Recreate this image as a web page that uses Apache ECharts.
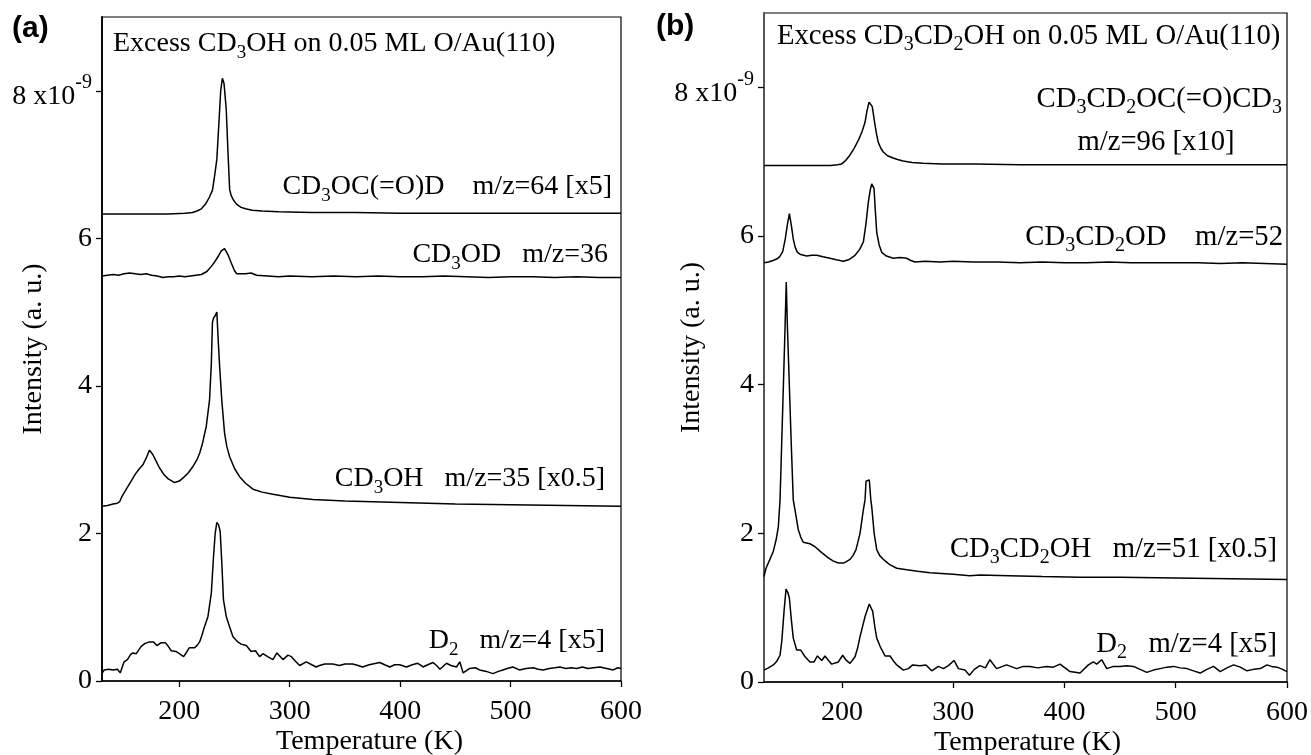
<!DOCTYPE html>
<html><head><meta charset="utf-8">
<script src="https://cdn.jsdelivr.net/npm/echarts@6/dist/echarts.min.js"></script>
<style>html,body{margin:0;padding:0;background:#fff}#c{width:1311px;height:755px}</style>
</head><body><div id="c"></div>
<script>
// ---------- DATA (Temperature K, Intensity x1e-9) ----------
const xTicks = [200, 300, 400, 500, 600];
const yTicks = [0, 2, 4, 6, 8];

// Panel (a): Excess CD3OH on 0.05 ML O/Au(110)
const aEster = [[130,6.33],[150,6.33],[170,6.33],[190,6.33],[205,6.34],[212,6.35],[216,6.37],[220,6.40],[224,6.47],[227,6.55],[230,6.65],[232,6.85],[234,7.07],[236,7.6],[237.5,8.0],[239,8.17],[240.5,8.1],[242.5,7.75],[244,7.2],[245.6,6.66],[247,6.58],[249,6.52],[252,6.46],[256,6.42],[260,6.40],[266,6.38],[275,6.37],[290,6.36],[320,6.35],[360,6.35],[400,6.34],[450,6.34],[500,6.34],[550,6.34],[600,6.34]];
const aMethD = [[130,5.49],[135,5.50],[140,5.51],[145,5.50],[150,5.52],[155,5.53],[160,5.52],[165,5.51],[170,5.52],[175,5.50],[180,5.49],[185,5.47],[190,5.48],[195,5.48],[200,5.49],[205,5.48],[210,5.49],[215,5.50],[220,5.51],[225,5.55],[229,5.62],[232,5.68],[235,5.75],[238,5.83],[241,5.86],[244,5.78],[247,5.67],[250,5.56],[252,5.52],[256,5.52],[260,5.52],[265,5.53],[270,5.50],[280,5.49],[290,5.48],[300,5.49],[320,5.48],[340,5.49],[360,5.48],[380,5.49],[400,5.48],[420,5.48],[440,5.49],[460,5.48],[480,5.47],[500,5.48],[520,5.48],[540,5.47],[560,5.48],[580,5.47],[600,5.47]];
const aMeth = [[130,2.37],[135,2.38],[140,2.40],[144,2.41],[146,2.43],[148,2.50],[152,2.60],[156,2.70],[160,2.80],[164,2.88],[167,2.93],[170,3.02],[173,3.13],[176,3.07],[179,2.98],[182,2.89],[186,2.80],[190,2.74],[195.7,2.69],[200,2.71],[204,2.76],[208,2.82],[212,2.90],[216,3.00],[218.5,3.09],[221,3.22],[224.4,3.45],[227.4,3.81],[229,4.3],[230,4.86],[231,4.92],[232.5,4.95],[234,5.0],[235.3,4.6],[236.5,4.27],[238.5,3.8],[241,3.36],[243,3.18],[245.6,3.04],[250,2.88],[254.6,2.77],[260,2.68],[266.7,2.60],[275,2.56],[284.8,2.53],[300,2.49],[321,2.46],[350,2.44],[400,2.42],[450,2.40],[500,2.39],[550,2.38],[600,2.37]];
const aD2 = [[130,0.10],[132,0.15],[136,0.16],[140,0.15],[144,0.16],[146.5,0.11],[150,0.26],[153,0.29],[156,0.36],[158,0.38],[161,0.37],[165.5,0.47],[169,0.51],[173,0.53],[176.7,0.53],[179.7,0.48],[183.6,0.52],[187.3,0.52],[190,0.47],[192.7,0.41],[197,0.40],[200,0.37],[203.9,0.33],[207,0.40],[209,0.45],[213.8,0.45],[216,0.48],[218.4,0.53],[220.5,0.62],[222.9,0.74],[225.9,0.87],[229,1.19],[231,1.69],[232.5,2.0],[234,2.15],[235.5,2.12],[237,2.03],[238.5,1.6],[240,1.10],[242.6,0.87],[245,0.76],[248.6,0.60],[253,0.53],[256,0.50],[260.7,0.48],[265,0.40],[269,0.41],[272.7,0.33],[275.7,0.37],[280,0.33],[284.8,0.29],[288.4,0.38],[293.9,0.29],[298.4,0.35],[301.5,0.33],[305,0.27],[309,0.21],[315,0.26],[320,0.22],[324,0.19],[327,0.21],[331.7,0.23],[339,0.23],[345,0.21],[350,0.23],[357,0.23],[362,0.21],[366,0.19],[372,0.22],[381.5,0.25],[386,0.22],[390.6,0.19],[395,0.22],[399.6,0.22],[405.7,0.19],[411,0.22],[416,0.24],[420.8,0.19],[425,0.22],[429.8,0.25],[433,0.21],[436,0.16],[442,0.24],[446,0.21],[451,0.19],[454,0.26],[457,0.11],[463,0.17],[468,0.18],[472,0.15],[478,0.13],[484,0.10],[489,0.13],[493,0.15],[497,0.17],[502,0.19],[508,0.15],[514,0.17],[520.5,0.18],[525,0.16],[529.5,0.15],[535,0.17],[540,0.18],[544.7,0.19],[550,0.17],[555,0.18],[559.8,0.17],[565,0.19],[570,0.17],[575,0.18],[581,0.19],[587,0.17],[593,0.15],[597,0.18],[600,0.17]];

// Panel (b): Excess CD3CD2OH on 0.05 ML O/Au(110)
const bEster = [[130,6.95],[150,6.95],[170,6.95],[183,6.95],[190,6.95],[196,6.96],[199.8,6.97],[203,7.01],[207.3,7.09],[211,7.18],[214.8,7.29],[218,7.40],[220.8,7.53],[222.5,7.68],[224.4,7.80],[226,7.78],[227.3,7.74],[228.5,7.62],[229.8,7.49],[231,7.38],[232.7,7.26],[235,7.18],[237.2,7.13],[241,7.08],[246,7.05],[250,7.03],[255,7.01],[263,6.99],[273,6.98],[290,6.97],[320,6.97],[360,6.96],[400,6.96],[450,6.96],[500,6.96],[550,6.96],[600,6.96]];
const bEthD = [[130,5.64],[134,5.65],[138,5.67],[141.4,5.69],[144,5.72],[146.8,5.79],[149,5.95],[151,6.15],[152.8,6.30],[154.5,6.15],[156.3,5.96],[158,5.85],[160,5.78],[163,5.75],[168.4,5.73],[173,5.74],[177.4,5.74],[183,5.72],[189.3,5.70],[195,5.68],[201.3,5.66],[206,5.68],[211.8,5.74],[216,5.82],[219.3,5.92],[221.5,6.15],[223.8,6.46],[225.5,6.62],[226.8,6.70],[228.9,6.64],[230,6.35],[231.3,6.05],[233.5,5.88],[235.8,5.78],[240,5.73],[246.2,5.70],[252,5.71],[258.3,5.70],[262,5.67],[265.7,5.65],[275,5.66],[288,5.65],[300,5.66],[318,5.65],[340,5.65],[360,5.64],[380,5.65],[400,5.64],[420,5.64],[440,5.65],[460,5.64],[480,5.64],[500,5.64],[520,5.64],[540,5.63],[560,5.64],[580,5.63],[600,5.62]];
const bEth = [[130,1.42],[131.8,1.53],[135,1.64],[138.4,1.76],[141,1.92],[142.9,2.09],[144.4,2.45],[145.5,3.0],[147.4,3.98],[148.6,4.6],[150,5.38],[151,4.8],[152.8,3.98],[154.5,3.2],[156.3,2.45],[158.8,2.23],[160.8,2.05],[163,1.95],[165.3,1.88],[171.3,1.86],[175.8,1.82],[181.9,1.74],[187.8,1.67],[192,1.63],[196.8,1.60],[201.3,1.60],[204,1.62],[207.3,1.65],[210,1.70],[212.7,1.78],[216.3,2.0],[219.3,2.32],[220.8,2.45],[221.7,2.70],[224.6,2.72],[226,2.45],[226.8,2.36],[229,2.0],[231.3,1.78],[234,1.70],[237.2,1.65],[243,1.58],[249.3,1.53],[258.3,1.51],[268,1.49],[279,1.47],[300,1.45],[315,1.43],[324,1.44],[350,1.43],[380,1.42],[414,1.41],[450,1.41],[500,1.40],[550,1.39],[600,1.38]];
const bD2 = [[130,0.16],[134,0.19],[138.4,0.23],[141.5,0.28],[144.4,0.36],[146,0.55],[148,0.95],[149.8,1.25],[151.5,1.20],[152.8,1.13],[154.5,0.85],[156.3,0.59],[159.4,0.43],[163,0.43],[166.9,0.34],[171.3,0.27],[175,0.27],[178,0.35],[181.9,0.29],[184.8,0.35],[188,0.29],[190.9,0.24],[196.8,0.27],[200.7,0.36],[204,0.29],[207.3,0.25],[211.8,0.34],[214,0.45],[216.3,0.61],[220.8,0.88],[224.6,1.05],[227.7,0.95],[229.5,0.75],[231.3,0.59],[234.3,0.48],[238.8,0.35],[243.3,0.35],[246,0.29],[249.3,0.23],[255.2,0.16],[259.7,0.18],[263.6,0.23],[270.2,0.22],[275.6,0.23],[280.7,0.15],[286.7,0.21],[291.2,0.18],[295.7,0.22],[300.8,0.29],[304.7,0.18],[310.7,0.16],[314.6,0.09],[319,0.17],[324,0.22],[329,0.19],[333,0.30],[339,0.18],[348,0.23],[357,0.18],[363,0.21],[369,0.21],[376,0.19],[384,0.21],[390,0.20],[396,0.24],[405,0.14],[414,0.12],[421.5,0.23],[426,0.27],[429,0.24],[433.5,0.30],[438,0.18],[444,0.21],[450,0.21],[456,0.22],[462,0.21],[468,0.17],[474,0.13],[480,0.16],[486,0.18],[492,0.20],[498,0.21],[504,0.19],[510,0.18],[516,0.15],[522,0.12],[528,0.17],[534,0.21],[540,0.14],[546,0.19],[552,0.23],[558,0.20],[564,0.15],[570,0.17],[576,0.18],[582,0.23],[586,0.21],[591,0.20],[596,0.17],[600,0.14]];

// ---------- CHART ----------
const FONT = 'Liberation Serif';
const FS = 28;
const FSB = 28.7;
const chart = echarts.init(document.getElementById('c'), null, {renderer: 'canvas'});

function txt(x, y, text, align, fs) {
  const f = fs || FS;
  return {
    type: 'text', x: x, y: y, z: 100,
    style: {
      text: text, fill: '#000', fontSize: f, fontFamily: FONT,
      align: align, textAlign: align, verticalAlign: 'middle', textVerticalAlign: 'middle',
      rich: {s: {fontSize: Math.round(f * 0.69), fontFamily: FONT, color: '#000', fill: '#000', padding: [18, 0, 0, 0]}}
    }
  };
}

function xAxis(idx) {
  return {
    gridIndex: idx, type: 'value', min: 130, max: 600,
    name: 'Temperature (K)', nameLocation: 'middle', nameGap: 47, nameMoveOverlap: false,
    nameTextStyle: {fontFamily: FONT, fontSize: FS, color: '#000', padding: idx === 0 ? [0, 0, 0, 16] : [0, 0, 0, 4]},
    axisLine: {show: true, onZero: false, lineStyle: {color: '#000', width: 1.5}},
    axisTick: {show: true, inside: false, length: 6, customValues: xTicks, lineStyle: {color: '#000', width: 1.3}},
    axisLabel: {customValues: xTicks, margin: 17, fontFamily: FONT, fontSize: FS, color: '#000', hideOverlap: false},
    splitLine: {show: false}
  };
}
function yAxis(idx, lineColor, gap) {
  return {
    gridIndex: idx, type: 'value', min: 0, max: 9,
    name: 'Intensity (a. u.)', nameLocation: 'middle', nameGap: gap, nameMoveOverlap: false,
    nameTextStyle: {fontFamily: FONT, fontSize: FS, color: '#000'},
    axisLine: {show: true, lineStyle: {color: lineColor, width: 1.8}},
    axisTick: {show: true, inside: false, length: 6, customValues: yTicks, lineStyle: {color: '#000', width: 1.3}},
    axisLabel: {
      customValues: yTicks, margin: 10, fontFamily: FONT, fontSize: FS, color: '#000', hideOverlap: false,
      formatter: function (v) { return v === 8 ? '{m|8 x10}{p|-9}' : String(v); },
      rich: {
        m: {fontFamily: FONT, fontSize: FS, color: '#000', padding: [12, 0, 0, 0]},
        p: {fontFamily: FONT, fontSize: 20, color: '#000', padding: [0, 0, 16, 0]}
      }
    },
    splitLine: {show: false}
  };
}
function line(data, idx) {
  return {
    type: 'line', data: data, xAxisIndex: idx, yAxisIndex: idx,
    showSymbol: false, symbol: 'none', smooth: false,
    lineStyle: {color: '#000', width: 1.5}, animation: false, silent: true
  };
}

chart.setOption({
  backgroundColor: '#fff',
  animation: false,
  textStyle: {fontFamily: FONT},
  grid: [
    {left: 102, top: 17, width: 519, height: 664, show: true, borderColor: '#000', borderWidth: 1.2, backgroundColor: 'transparent', outerBoundsMode: 'none', containLabel: false},
    {left: 764, top: 13, width: 523, height: 669, show: true, borderColor: '#000', borderWidth: 1.2, backgroundColor: 'transparent', outerBoundsMode: 'none', containLabel: false}
  ],
  xAxis: [xAxis(0), xAxis(1)],
  yAxis: [yAxis(0, '#000', 54), yAxis(1, '#555', 58)],
  series: [
    line(aEster, 0), line(aMethD, 0), line(aMeth, 0), line(aD2, 0),
    line(bEster, 1), line(bEthD, 1), line(bEth, 1), line(bD2, 1)
  ],
  graphic: [
    {type: 'text', x: 12, y: 29, z: 100, style: {text: '(a)', fill: '#000', fontSize: 30, fontWeight: 'bold', fontFamily: 'Liberation Sans', align: 'left', textAlign: 'left', verticalAlign: 'middle', textVerticalAlign: 'middle'}},
    {type: 'text', x: 656, y: 27, z: 100, style: {text: '(b)', fill: '#000', fontSize: 30, fontWeight: 'bold', fontFamily: 'Liberation Sans', align: 'left', textAlign: 'left', verticalAlign: 'middle', textVerticalAlign: 'middle'}},
    txt(113, 44, 'Excess CD{s|3}OH on 0.05 ML O/Au(110)', 'left'),
    txt(612, 187, 'CD{s|3}OC(=O)D    m/z=64 [x5]', 'right'),
    txt(608, 255, 'CD{s|3}OD   m/z=36', 'right'),
    txt(605, 479, 'CD{s|3}OH   m/z=35 [x0.5]', 'right'),
    txt(605, 641, 'D{s|2}   m/z=4 [x5]', 'right'),
    txt(777, 36, 'Excess CD{s|3}CD{s|2}OH on 0.05 ML O/Au(110)', 'left', FSB),
    txt(1282, 99, 'CD{s|3}CD{s|2}OC(=O)CD{s|3}', 'right', FSB),
    txt(1156, 142, 'm/z=96 [x10]', 'center', FSB),
    txt(1283, 237, 'CD{s|3}CD{s|2}OD    m/z=52', 'right', FSB),
    txt(1277, 549, 'CD{s|3}CD{s|2}OH   m/z=51 [x0.5]', 'right', FSB),
    txt(1277, 644, 'D{s|2}   m/z=4 [x5]', 'right', FSB)
  ]
});
</script>
</body></html>
